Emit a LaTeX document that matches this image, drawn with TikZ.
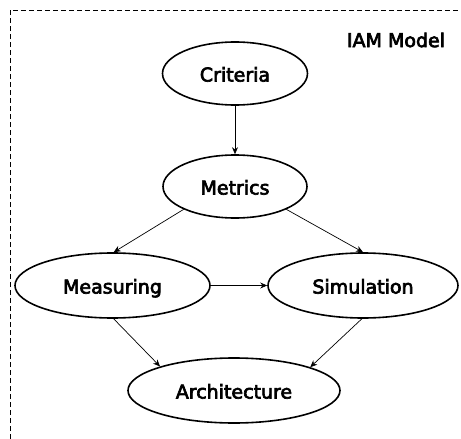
\documentclass[tikz,border=0pt]{standalone}
\usepackage{fontspec}
\setmainfont{DejaVu Sans}
\newfontfamily\labelfont[FakeBold=3.5]{DejaVu Sans}
\usetikzlibrary{shapes.geometric,arrows.meta}
\begin{document}
\begin{tikzpicture}[x=1pt,y=-1pt,
  stage/.style={ellipse,draw,line width=1.6pt,inner sep=0pt,
    text height=16pt,text depth=0pt,
    font=\labelfont\fontsize{19}{22}\selectfont},
  link/.style={line width=0.7pt,-{Stealth[length=7pt,width=6pt]}}]
  \useasboundingbox (0,0) rectangle (461,439);
  % frame of the model
  \coordinate (fb) at (10,439);
  \coordinate (fc) at (10,10);
  \coordinate (fr) at (461,10);
  \draw[line width=0.7pt,dash pattern=on 5pt off 3pt] (fb) -- (fc) -- (fr);
  \node[font=\labelfont\fontsize{19}{22}\selectfont] (title) at (396,40) {IAM Model};
  % stages
  \node[stage,minimum width=145pt,minimum height=63pt] (crit) at (235,73.5) {Criteria};
  \node[stage,minimum width=144pt,minimum height=63pt] (metr) at (235,186.5) {Metrics};
  \node[stage,minimum width=195pt,minimum height=65pt] (meas) at (112.5,285.5) {Measuring};
  \node[stage,minimum width=190pt,minimum height=65pt] (simu) at (363,285.5) {Simulation};
  \node[stage,minimum width=212pt,minimum height=65pt] (arch) at (234,390.5) {Architecture};
  % flow
  \draw[link] (crit) -- (metr);
  \draw[link] (metr.-156) -- (meas.88);
  \draw[link] (metr.-24) -- (simu.90);
  \draw[link] (meas) -- (simu);
  \draw[link] (meas.-88) -- (arch.162);
  \draw[link] (simu.-92) -- (arch.17);
\end{tikzpicture}
\end{document}
